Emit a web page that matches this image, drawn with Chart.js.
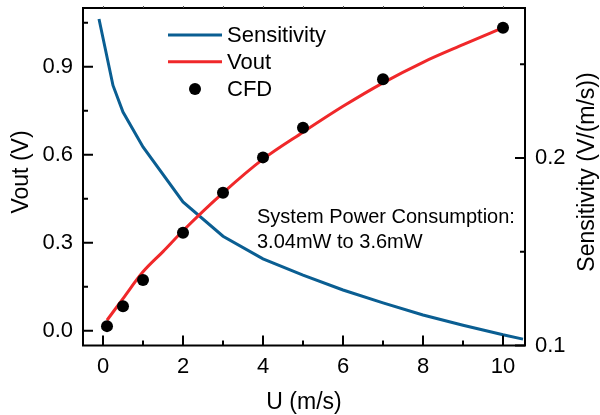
<!DOCTYPE html>
<html><head><meta charset="utf-8">
<script src="https://cdn.jsdelivr.net/npm/chart.js@4.4.0/dist/chart.umd.min.js"></script>
<style>html,body{margin:0;padding:0;background:#fff;}canvas{display:block;}</style>
</head><body>
<canvas id="c" width="600" height="415"></canvas>
<script>
// ---- data ----
const sensU = [-0.1, 0.25, 0.5, 1, 2, 3, 4, 5, 6, 7, 8, 9, 10, 10.5];
const sensVal = [0.2741, 0.2387, 0.2245, 0.2059, 0.1766, 0.1583, 0.1462, 0.1375, 0.1296, 0.1227, 0.1163, 0.1108, 0.1057, 0.1034];
const voutU = [0.1, 0.5, 1, 1.5, 2, 3, 4, 5, 6, 7, 8, 9, 10];
const voutVal = [0.036, 0.11, 0.201, 0.27, 0.341, 0.47, 0.585, 0.677, 0.765, 0.845, 0.915, 0.975, 1.033];
const cfdU = [0.1, 0.5, 1, 2, 3, 4, 5, 7, 10];
const cfdVal = [0.016, 0.084, 0.173, 0.334, 0.4705, 0.591, 0.692, 0.857, 1.033];
const xTicks = [0, 2, 4, 6, 8, 10];
const xMinor = [1, 3, 5, 7, 9];
const yLeftTicks = [0, 0.3, 0.6, 0.9];
const yLeftMinor = [0.15, 0.45, 0.75, 1.05];
const yRightTicks = [0.1, 0.2];
const yRightMinor = [0.15, 0.25];
const seriesLabels = ['Sensitivity', 'Vout', 'CFD'];
const xTitle = 'U (m/s)';
const yLeftTitle = 'Vout (V)';
const yRightTitle = 'Sensitivity (V/(m/s))';
const noteLines = ['System Power Consumption:', '3.04mW to 3.6mW'];

const FONT = '"Liberation Sans", Arial, Helvetica, sans-serif';
const BLUE = '#0a5e92';
const RED = '#f0282a';

const toXY = (xs, ys) => xs.map((x, i) => ({x: x, y: ys[i]}));

const decor = {
  id: 'decor',
  afterDraw(chart) {
    const {ctx, chartArea: a, scales} = chart;
    const sx = scales.x, yl = scales.y, yr = scales.y2;
    ctx.save();
    // frame
    ctx.strokeStyle = '#000';
    ctx.lineWidth = 2;
    ctx.strokeRect(a.left, a.top, a.right - a.left, a.bottom - a.top);
    // inner ticks
    ctx.lineWidth = 2;
    ctx.beginPath();
    xTicks.forEach(v => { const p = sx.getPixelForValue(v); ctx.moveTo(p, a.bottom); ctx.lineTo(p, a.bottom - 10); });
    xMinor.forEach(v => { const p = sx.getPixelForValue(v); ctx.moveTo(p, a.bottom); ctx.lineTo(p, a.bottom - 5); });
    yLeftTicks.forEach(v => { const p = yl.getPixelForValue(v); ctx.moveTo(a.left, p); ctx.lineTo(a.left + 10, p); });
    yLeftMinor.forEach(v => { const p = yl.getPixelForValue(v); ctx.moveTo(a.left, p); ctx.lineTo(a.left + 5, p); });
    yRightTicks.forEach(v => { const p = yr.getPixelForValue(v); ctx.moveTo(a.right, p); ctx.lineTo(a.right - 10, p); });
    yRightMinor.forEach(v => { const p = yr.getPixelForValue(v); ctx.moveTo(a.right, p); ctx.lineTo(a.right - 5, p); });
    ctx.stroke();
    // tiny top ticks
    ctx.lineWidth = 1;
    ctx.strokeStyle = '#555';
    ctx.beginPath();
    xTicks.concat(xMinor).forEach(v => { const p = Math.round(sx.getPixelForValue(v)) + 0.5; ctx.moveTo(p, a.top); ctx.lineTo(p, a.top - 2); });
    ctx.stroke();

    // legend
    const ds = chart.data.datasets;
    const rows = [35, 61.7, 89];
    ctx.font = '22px ' + FONT;
    ctx.textBaseline = 'middle';
    ctx.textAlign = 'left';
    ds.forEach((d, i) => {
      const y = rows[i];
      if (d.showLine === false) {
        ctx.fillStyle = d.backgroundColor;
        ctx.beginPath(); ctx.arc(195, y, 6, 0, Math.PI * 2); ctx.fill();
      } else {
        ctx.strokeStyle = d.borderColor; ctx.lineWidth = 3;
        ctx.beginPath(); ctx.moveTo(168, y); ctx.lineTo(222, y); ctx.stroke();
      }
      ctx.fillStyle = '#000';
      ctx.fillText(d.label, 227, y + 1);
    });

    // annotation
    ctx.font = '20px ' + FONT;
    ctx.textBaseline = 'alphabetic';
    ctx.fillStyle = '#000';
    ctx.fillText(noteLines[0], 257, 223.3);
    ctx.fillText(noteLines[1], 257, 247.7);

    // y titles
    ctx.font = '23px ' + FONT;
    ctx.textAlign = 'center';
    ctx.textBaseline = 'middle';
    ctx.save(); ctx.translate(21.5, 172); ctx.rotate(-Math.PI / 2); ctx.fillText(yLeftTitle, 0, 0); ctx.restore();
    ctx.save(); ctx.translate(588, 172); ctx.rotate(-Math.PI / 2); ctx.fillText(yRightTitle, 0, 0); ctx.restore();
    ctx.restore();
  }
};

const tickFont = {family: FONT, size: 22};

new Chart(document.getElementById('c'), {
  type: 'scatter',
  data: {
    datasets: [
      {label: seriesLabels[0], data: toXY(sensU, sensVal), yAxisID: 'y2', showLine: true,
       borderColor: BLUE, backgroundColor: BLUE, borderWidth: 3, pointRadius: 0, tension: 0, order: 3},
      {label: seriesLabels[1], data: toXY(voutU, voutVal), yAxisID: 'y', showLine: true,
       borderColor: RED, backgroundColor: RED, borderWidth: 3, pointRadius: 0, cubicInterpolationMode: 'monotone', order: 2},
      {label: seriesLabels[2], data: toXY(cfdU, cfdVal), yAxisID: 'y', showLine: false,
       borderColor: '#000', backgroundColor: '#000', borderWidth: 0, pointRadius: 6, order: 1}
    ]
  },
  options: {
    responsive: false, animation: false, devicePixelRatio: 1,
    layout: {padding: {top: 8, left: 0, right: 0, bottom: 0}},
    plugins: {legend: {display: false}, tooltip: {enabled: false}},
    scales: {
      x: {
        type: 'linear', position: 'bottom', min: -0.5, max: 10.55,
        grid: {display: false, drawTicks: false}, border: {display: false},
        afterBuildTicks: s => { s.ticks = xTicks.map(v => ({value: v})); },
        afterFit: s => { s.height = 415 - 345.5; s.paddingLeft = 0; s.paddingRight = 0; },
        ticks: {font: tickFont, color: '#000', padding: 8, maxRotation: 0, callback: v => String(v)},
        title: {display: true, text: xTitle, color: '#000', font: {family: FONT, size: 23, lineHeight: 1}, padding: {top: 0, bottom: 0.5}}
      },
      y: {
        type: 'linear', position: 'left', min: -0.05, max: 1.1,
        grid: {display: false, drawTicks: false}, border: {display: false},
        afterBuildTicks: s => { s.ticks = yLeftTicks.map(v => ({value: v})); },
        afterFit: s => { s.width = 83; s.paddingTop = 0; s.paddingBottom = 0; },
        ticks: {font: tickFont, color: '#000', padding: 10, callback: v => Number(v).toFixed(1)}
      },
      y2: {
        type: 'linear', position: 'right', min: 0.1, max: 0.28,
        grid: {display: false, drawTicks: false}, border: {display: false},
        afterBuildTicks: s => { s.ticks = yRightTicks.map(v => ({value: v})); },
        afterFit: s => { s.width = 75; s.paddingTop = 0; s.paddingBottom = 0; },
        ticks: {font: tickFont, color: '#000', padding: 10, callback: v => Number(v).toFixed(1)}
      }
    }
  },
  plugins: [decor]
});
</script>
</body></html>
